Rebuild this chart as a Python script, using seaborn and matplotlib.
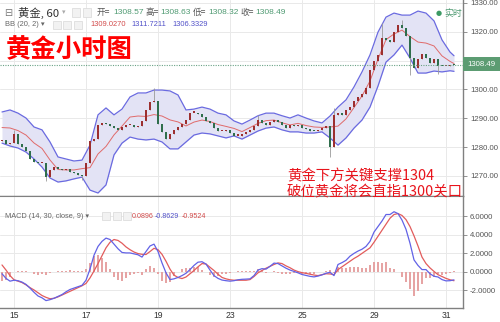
import numpy as np
import pandas as pd
import matplotlib
matplotlib.use("Agg")
import matplotlib.pyplot as plt
from matplotlib.patches import Rectangle
import seaborn as sns

# ---------------- data ----------------
close = [
    1282.5, 1281.0, 1281.5, 1284.5, 1281.0, 1280.0, 1278.5, 1276.0, 1275.0, 1274.5,
    1274.5, 1269.5, 1272.0, 1273.0, 1272.5, 1272.0, 1272.5, 1271.5, 1271.0, 1270.5,
    1270.0, 1274.5, 1282.0, 1283.0, 1287.7, 1288.4, 1288.0, 1287.5, 1286.5, 1286.0,
    1287.0, 1287.7, 1287.7, 1287.0, 1287.5, 1289.0, 1293.0, 1295.7, 1296.0, 1288.0,
    1285.3, 1283.0, 1284.5, 1286.0, 1287.0, 1288.0, 1289.5, 1292.0, 1292.0, 1291.5,
    1290.5, 1289.0, 1288.4, 1286.5, 1285.5, 1285.5, 1286.0, 1285.0, 1284.0, 1284.0,
    1284.5, 1285.2, 1286.0, 1287.3, 1289.4, 1288.4, 1287.7, 1288.7, 1289.3, 1288.8,
    1287.8, 1286.8, 1287.7, 1287.2, 1287.6, 1286.6, 1286.2, 1285.6, 1285.5, 1286.1,
    1286.6, 1287.4, 1280.0, 1291.0, 1291.8, 1291.0, 1293.0, 1294.0, 1296.0, 1297.5,
    1298.6, 1300.5, 1306.8, 1310.0, 1312.0, 1318.0, 1317.3, 1316.5, 1320.0, 1322.5,
    1321.3, 1318.5, 1311.0, 1307.5, 1310.5, 1312.3, 1311.0, 1309.2, 1310.5, 1308.3,
    1308.0, 1308.0, 1308.5, 1308.49,
]
first_open = 1282.0
wick_high = {3: 1286.0, 38: 1300.5, 64: 1291.0, 83: 1293.6, 95: 1323.0, 100: 1324.0}
wick_low = {11: 1268.2, 20: 1268.6, 82: 1276.6, 102: 1305.0, 109: 1305.5}

# Bollinger band (20, 2), read every second bar plus the last bar
bb_upper = [
    1292.2, 1292.9, 1291.8, 1290.1, 1287.0, 1286.0, 1281.8, 1276.6, 1275.9, 1275.2,
    1275.5, 1280.7, 1291.2, 1293.6, 1291.2, 1293.2, 1297.4, 1298.8, 1298.8, 1299.8,
    1299.8, 1299.5, 1298.1, 1292.9, 1293.2, 1293.9, 1293.2, 1291.8, 1291.2, 1289.1,
    1288.0, 1289.4, 1290.9, 1291.8, 1291.8, 1290.9, 1290.1, 1291.2, 1290.1, 1289.1,
    1288.4, 1290.8, 1293.9, 1296.4, 1300.9, 1306.1, 1312.0, 1319.9, 1325.1, 1326.5,
    1325.8, 1325.8, 1327.2, 1326.5, 1323.8, 1317.2, 1313.0, 1311.7,
]
bb_lower = [
    1281.4, 1280.4, 1279.7, 1278.3, 1275.9, 1273.1, 1269.3, 1267.9, 1268.3, 1269.0,
    1269.6, 1265.1, 1264.1, 1266.9, 1277.3, 1281.4, 1283.5, 1282.8, 1282.5, 1282.8,
    1281.8, 1279.4, 1279.4, 1281.8, 1284.2, 1284.9, 1284.6, 1283.9, 1283.2, 1283.9,
    1282.8, 1284.2, 1285.6, 1286.6, 1287.0, 1286.0, 1285.3, 1285.3, 1284.9, 1284.9,
    1285.3, 1283.2, 1280.7, 1283.2, 1286.6, 1289.4, 1293.9, 1301.2, 1309.5, 1312.0,
    1315.4, 1310.9, 1305.7, 1305.7, 1306.4, 1306.1, 1306.5, 1306.3,
]

# MACD (14, 30, close, 9), one value per bar
macd_line = [
    -0.2, -0.7, -1.0, -0.9, -0.95, -1.1, -1.35, -1.75, -2.2, -2.6,
    -2.8, -3.1, -3.0, -2.85, -2.65, -2.45, -2.15, -1.9, -1.75, -1.6,
    -1.45, -0.9, 0.3, 1.8, 2.75, 3.3, 3.65, 3.5, 3.0, 2.5,
    2.1, 2.05, 2.05, 1.95, 1.85, 1.6, 2.2, 2.8, 3.0, 2.2,
    0.97, -0.1, -0.83, -0.75, -0.6, -0.4, -0.15, 0.25, 0.7, 1.05,
    1.1, 0.85, 0.2, -0.4, -0.7, -0.88, -0.95, -1.0, -0.95, -0.85,
    -0.8, -0.78, -0.75, -0.4, 0.2, 0.35, 0.3, 0.6, 0.95, 0.9,
    0.65, 0.4, 0.2, 0.05, -0.1, -0.28, -0.38, -0.48, -0.54, -0.45,
    -0.32, -0.15, -0.04, -0.4, 0.8, 1.0, 1.25, 1.7, 2.0, 2.25,
    2.45, 2.75, 3.3, 4.3, 4.9, 5.5, 6.2, 6.2, 6.5, 6.3,
    5.6, 4.6, 3.1, 1.3, 0.7, 0.25, 0.25, -0.2, -0.47, -0.55,
    -0.83, -0.97, -0.95, -0.8629,
]
signal_line = [
    0.75, 0.2, -0.4, -0.85, -1.0, -1.15, -1.4, -1.7, -1.95, -2.25,
    -2.55, -2.75, -2.9, -2.85, -2.7, -2.5, -2.3, -2.1, -1.9, -1.7,
    -1.5, -1.25, -0.65, 0.1, 0.9, 1.75, 2.6, 3.2, 3.5, 3.4,
    3.1, 2.7, 2.4, 2.15, 1.98, 1.9, 1.88, 2.2, 2.55, 2.4,
    1.9, 1.15, 0.3, -0.35, -0.6, -0.72, -0.55, -0.2, 0.15, 0.55,
    0.9, 0.85, 0.5, 0.15, -0.25, -0.6, -0.75, -0.85, -0.9, -0.9,
    -0.9, -0.9, -0.83, -0.5, -0.1, 0.15, 0.4, 0.6, 0.8, 0.97,
    0.9, 0.65, 0.45, 0.2, 0.03, -0.08, -0.16, -0.25, -0.34, -0.4,
    -0.3, -0.2, -0.22, -0.3, 0.25, 0.55, 0.85, 1.15, 1.45, 1.7,
    2.0, 2.3, 2.6, 3.2, 3.85, 4.5, 5.15, 5.8, 6.2, 6.3,
    6.1, 5.65, 4.9, 3.9, 2.8, 1.6, 0.9, 0.43, 0.05, -0.3,
    -0.5, -0.7, -0.85, -0.9524,
]

date_labels = ["15", "17", "19", "23", "25", "29", "31"]
price_ticks = [1270, 1280, 1290, 1300, 1310, 1320, 1330]
macd_ticks = [-2, 0, 2, 4, 6]
last_price = 1308.49

ohlc_labels = ["开=", "高=", "低=", "收="]
ohlc_values = ["1308.57", "1308.63", "1308.32", "1308.49"]
bb_values = ["1309.0270", "1311.7211", "1306.3329"]
macd_values = ["0.0896", "-0.8629", "-0.9524"]
title = "黄金小时图"
note_lines = ["黄金下方关键支撑1304", "破位黄金将会直指1300关口"]

# ---------------- derived tables ----------------
n = len(close)
df = pd.DataFrame({"i": np.arange(n), "close": close,
                   "macd": macd_line, "signal": signal_line})
df["open"] = df["close"].shift(1).fillna(first_open)
df["high"] = df[["open", "close"]].max(axis=1)
df["low"] = df[["open", "close"]].min(axis=1)
for k, v in wick_high.items():
    df.loc[k, "high"] = max(df.loc[k, "high"], v)
for k, v in wick_low.items():
    df.loc[k, "low"] = min(df.loc[k, "low"], v)
df["hist"] = df["macd"] - df["signal"]

bb = pd.DataFrame({"i": list(range(0, n - 1, 2)) + [n - 1],
                   "upper": bb_upper, "lower": bb_lower})
bb["mid"] = (bb["upper"] + bb["lower"]) / 2

# ---------------- figure ----------------
sns.set_style("white")
plt.rcParams["font.family"] = ["Liberation Sans", "Noto Sans CJK SC", "DejaVu Sans"]

W, H = 500, 322
fig = plt.figure(figsize=(W / 100, H / 100), dpi=100)
fig.patch.set_facecolor("white")

def fx(x):
    return x / W

def fy(y):
    return 1 - y / H

axw = 463 / W
ax = fig.add_axes([0, fy(196), axw, 196 / H])
ax2 = fig.add_axes([0, fy(308), axw, (308 - 196) / H])

xlim = (-0.5, 115.25)
ticks = [3 + 18 * j for j in range(len(date_labels))]

grid_c = "#e9e9e9"
for a in (ax, ax2):
    a.set_xlim(*xlim)
    a.set_xticks(ticks)
    a.grid(True, color=grid_c, lw=0.7)
    a.set_axisbelow(True)
    for s in ("left", "top"):
        a.spines[s].set_visible(False)
    a.spines["right"].set_color("#808080")
    a.spines["bottom"].set_color("#808080")
    a.spines["right"].set_linewidth(1.0)
    a.spines["bottom"].set_linewidth(1.0)
    a.yaxis.tick_right()
    a.tick_params(axis="y", which="both", length=3, width=0.6, color="#808080",
                  labelsize=5.6, labelcolor="#555555", pad=2, left=False, right=True)

# main panel
ax.set_ylim(1263.06, 1331.04)
ax.set_yticks(price_ticks)
ax.set_yticklabels([f"{p:.2f}" for p in price_ticks])
ax.tick_params(axis="x", length=0, labelbottom=False)

ax.fill_between(bb["i"], bb["lower"], bb["upper"], color="#e3e3f5", lw=0, zorder=1)
sns.lineplot(data=bb, x="i", y="upper", ax=ax, color="#6a6ae0", lw=0.9, zorder=2)
sns.lineplot(data=bb, x="i", y="lower", ax=ax, color="#6a6ae0", lw=0.9, zorder=2)
sns.lineplot(data=bb, x="i", y="mid", ax=ax, color="#e06a6a", lw=0.7, zorder=2)

up = df["close"] >= df["open"]
ax.vlines(df["i"], df["low"], df["high"], color="#9a9a9a", lw=0.6, zorder=3)
body_h = (df["close"] - df["open"]).abs().clip(lower=0.4)
body_b = df[["open", "close"]].min(axis=1)
ax.bar(df["i"], body_h, bottom=body_b, width=0.72,
       color=np.where(up, "#9c2f2f", "#2f6e4c"), lw=0, zorder=4)

ax.axhline(last_price, color="#6aa386", lw=0.8, ls=(0, (1, 1.2)), zorder=5)
ax.set_xlabel("")
ax.set_ylabel("")

# MACD panel
ax2.set_ylim(-3.9, 8.2)
ax2.set_yticks(macd_ticks)
ax2.set_yticklabels([f"{v:.4f}" for v in macd_ticks])
ax2.set_xticklabels(date_labels)
ax2.tick_params(axis="x", length=0, labelsize=6.2, labelcolor="#333333", pad=2)
ax2.bar(df["i"], df["hist"], width=0.45, color="#e6a4a4", lw=0, zorder=2)
sns.lineplot(data=df, x="i", y="signal", ax=ax2, color="#e25c5c", lw=0.9, zorder=3)
sns.lineplot(data=df, x="i", y="macd", ax=ax2, color="#6262e6", lw=0.9, zorder=3)
ax2.set_xlabel("")
ax2.set_ylabel("")
ax2.spines["top"].set_visible(True)
ax2.spines["top"].set_color("#808080")

# last price box on axis
fig.patches.append(Rectangle((fx(463), fy(71)), 37 / W, 14 / H, transform=fig.transFigure,
                             facecolor="#5c9c72", edgecolor="none", zorder=10))
fig.text(fx(481.5), fy(64), f"{last_price:.2f}", color="white", fontsize=5.6,
         ha="center", va="center", zorder=11)

# header texts
cjk = ["Noto Sans CJK SC", "DejaVu Sans"]
fig.text(fx(4), fy(12.5), "⊟", fontsize=7, color="#777777", va="center", family=["DejaVu Sans"])
fig.text(fx(18), fy(12.5), "黄金, 60", fontsize=8.2, color="#333333", va="center", family=cjk)
fig.text(fx(62), fy(12.5), "▾", fontsize=5, color="#aaaaaa", va="center", family=["DejaVu Sans"])
for x0, y0 in ((72, 12.5), (83, 12.5), (53, 25), (63, 25), (74, 25), (102, 216), (113, 216), (123, 216)):
    fig.patches.append(Rectangle((fx(x0), fy(y0 + 4)), 8 / W, 8 / H, transform=fig.transFigure,
                                 facecolor="#f2f2f2", edgecolor="#d8d8d8", lw=0.5))
lab_x = [97, 145, 193, 240]
val_x = [113, 160, 208, 255]
for lx, vx, lt, vt in zip(lab_x, val_x, ohlc_labels, ohlc_values):
    fig.text(fx(lx), fy(12.8), lt, fontsize=6.2, color="#555555", va="center", family=cjk)
    fig.text(fx(vx), fy(12.8), vt, fontsize=6.0, color="#4f9a72", va="center")

fig.text(fx(5), fy(25), "BB (20, 2) ▾", fontsize=5.4, color="#666666", va="center",
         family=["Liberation Sans", "DejaVu Sans"])
for x0, t, c in zip((90, 131, 172), bb_values, ("#d24a4a", "#5050c8", "#5050c8")):
    fig.text(fx(x0), fy(25), t, fontsize=5.4, color=c, va="center")

fig.text(fx(5), fy(216), "MACD (14, 30, close, 9) ▾", fontsize=5.3, color="#666666", va="center",
         family=["Liberation Sans", "DejaVu Sans"])
for x0, t, c in zip((132, 155, 182), macd_values, ("#d24a4a", "#5050c8", "#d24a4a")):
    fig.text(fx(x0), fy(216), t, fontsize=5.1, color=c, va="center")

fig.text(fx(439), fy(13.5), "●", fontsize=5, color="#3c9a64", va="center", ha="center",
         family=["DejaVu Sans"])
fig.text(fx(444), fy(13.5), "实时", fontsize=6.4, color="#4f9a72", va="center", family=cjk)

fig.text(fx(6), fy(49.5), title, fontsize=18.3, color="#ff0000", fontweight="bold",
         va="center", family=cjk)

fig.text(fx(287), fy(176), note_lines[0], fontsize=10.4, color="#e8141c", va="center", family=cjk)
fig.text(fx(287), fy(192), note_lines[1], fontsize=10.4, color="#e8141c", va="center", family=cjk)

fig.savefig("out.png", dpi=100, facecolor="white")
